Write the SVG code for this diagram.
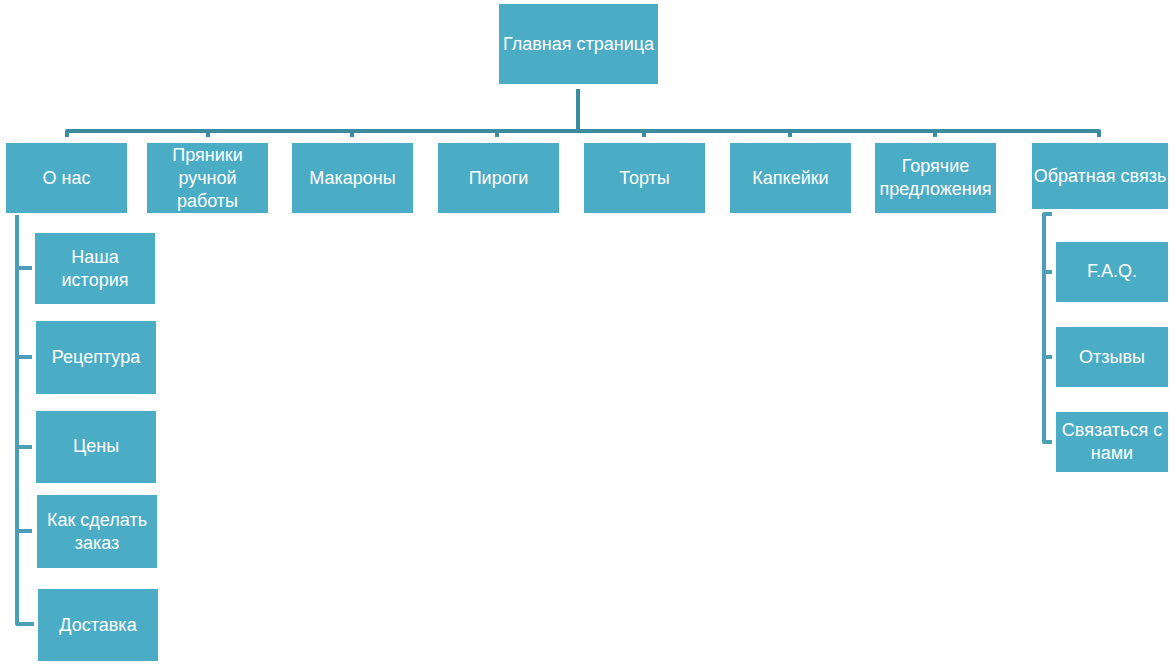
<svg xmlns="http://www.w3.org/2000/svg" width="1176" height="667" viewBox="0 0 1176 667">
<style>
.box{fill:#4BACC6}
.t{font-family:"Liberation Sans","Noto Sans",sans-serif;font-size:18px;fill:#FFFFFF;text-anchor:middle}
.bus{stroke:#3C8C9F;stroke-width:4;fill:none;stroke-linejoin:round}
.sub{stroke:#4A9FB6;stroke-width:4;fill:none;stroke-linejoin:round}
</style>
<rect width="1176" height="667" fill="#FFFFFF"/>
<g id="connectors">
<path class="bus" d="M578,89 V131 M67,137 V131 H1099 V137 M208,131 V137 M352,131 V137 M497,131 V137 M644,131 V137 M790,131 V137 M935,131 V137"/>
<path class="sub" d="M17,215 V624 H34 M17,268 H32 M17,357 H32 M17,447 H32 M17,531 H32"/>
<path class="sub" d="M1052,214 H1044 V442 H1052 M1044,272 H1052 M1044,357 H1052"/>
</g>
<g id="n-main"><rect class="box" x="499" y="4" width="159" height="80"/><text class="t" x="578.5" y="50">Главная страница</text></g>
<g id="n-about"><rect class="box" x="6" y="143" width="121" height="70"/><text class="t" x="66.5" y="184">О нас</text></g>
<g id="n-gingerbread"><rect class="box" x="147" y="143" width="121" height="70"/><text class="t" x="207.5" y="161">Пряники</text><text class="t" x="207.5" y="184">ручной</text><text class="t" x="207.5" y="207">работы</text></g>
<g id="n-macarons"><rect class="box" x="292" y="143" width="121" height="70"/><text class="t" x="352.5" y="184">Макароны</text></g>
<g id="n-pies"><rect class="box" x="438" y="143" width="121" height="70"/><text class="t" x="498.5" y="184">Пироги</text></g>
<g id="n-cakes"><rect class="box" x="584" y="143" width="121" height="70"/><text class="t" x="644.5" y="184">Торты</text></g>
<g id="n-cupcakes"><rect class="box" x="730" y="143" width="121" height="70"/><text class="t" x="790.5" y="184">Капкейки</text></g>
<g id="n-hot"><rect class="box" x="875" y="143" width="121" height="70"/><text class="t" x="935.5" y="172">Горячие</text><text class="t" x="935.5" y="195">предложения</text></g>
<g id="n-feedback"><rect class="box" x="1032" y="143" width="136" height="66"/><text class="t" x="1100" y="182">Обратная связь</text></g>
<g id="n-history"><rect class="box" x="35" y="233" width="120" height="71"/><text class="t" x="95" y="263">Наша</text><text class="t" x="95" y="286">история</text></g>
<g id="n-recipe"><rect class="box" x="36" y="321" width="120" height="73"/><text class="t" x="96" y="363">Рецептура</text></g>
<g id="n-prices"><rect class="box" x="36" y="411" width="120" height="72"/><text class="t" x="96" y="452">Цены</text></g>
<g id="n-order"><rect class="box" x="37" y="495" width="120" height="73"/><text class="t" x="97" y="526">Как сделать</text><text class="t" x="97" y="549">заказ</text></g>
<g id="n-delivery"><rect class="box" x="38" y="589" width="120" height="72"/><text class="t" x="98" y="631">Доставка</text></g>
<g id="n-faq"><rect class="box" x="1056" y="242" width="112" height="60"/><text class="t" x="1112" y="277">F.A.Q.</text></g>
<g id="n-reviews"><rect class="box" x="1056" y="327" width="112" height="60"/><text class="t" x="1112" y="363">Отзывы</text></g>
<g id="n-contact"><rect class="box" x="1056" y="412" width="112" height="60"/><text class="t" x="1112" y="436">Связаться с</text><text class="t" x="1112" y="459">нами</text></g>
</svg>
